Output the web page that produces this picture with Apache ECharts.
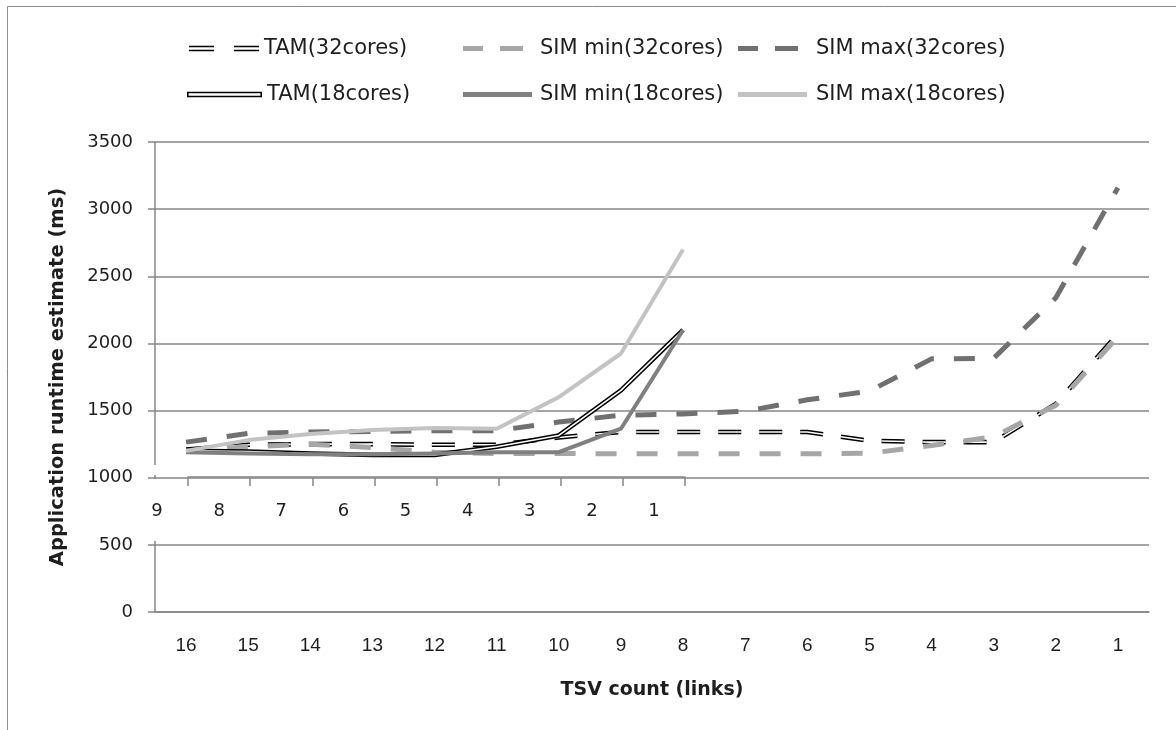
<!DOCTYPE html>
<html>
<head>
<meta charset="utf-8">
<script src="https://cdn.jsdelivr.net/npm/echarts@6/dist/echarts.min.js"></script>
<style>
html, body { margin: 0; padding: 0; background: #fff; }
#chart { width: 1176px; height: 730px; }
</style>
</head>
<body>
<div id="chart"></div>
<script>
// categories (TSV count) - bottom axis and the short secondary axis
const tsvLinks = ['16', '15', '14', '13', '12', '11', '10', '9', '8', '7', '6', '5', '4', '3', '2', '1'];
const tsvLinks18 = ['9', '8', '7', '6', '5', '4', '3', '2', '1'];

// 32 cores, 16 points
const tam32 = [1210, 1245, 1250, 1250, 1245, 1245, 1300, 1340, 1340, 1340, 1340, 1275, 1265, 1265, 1550, 2070];
const simMin32 = [1200, 1230, 1250, 1225, 1190, 1180, 1180, 1178, 1178, 1178, 1178, 1182, 1240, 1305, 1540, 2050];
const simMax32 = [1265, 1330, 1340, 1345, 1350, 1350, 1415, 1465, 1475, 1495, 1580, 1645, 1885, 1890, 2340, 3160];

// 18 cores, 9 points
const tam18 = [1200, 1195, 1180, 1170, 1170, 1230, 1315, 1650, 2100];
const simMin18 = [1190, 1180, 1175, 1175, 1180, 1190, 1190, 1365, 2100];
const simMax18 = [1200, 1280, 1325, 1355, 1370, 1365, 1600, 1925, 2700];

const AXIS = '#868686';
const TXT = '#1e1e1e';
const FONT = 'DejaVu Sans';
const NARROW = 'Liberation Sans';

// legend icons (double line / dashes)
const ICON_TAM32 = 'path://M0,0H25V1.6H0Z M0,4H25V5.6H0Z M45,0H70V1.6H45Z M45,4H70V5.6H45Z';
const ICON_TAM18 = 'path://M1,0H74V1.6H1Z M1,4H74V5.6H1Z M0,0H1.6V5.6H0Z M73.4,0H75V5.6H73.4Z';
const ICON_DASH = 'path://M0,0H20V5H0Z M37,0H60V5H37Z';
const ICON_SOLID = 'path://M0,0H69V5H0Z';

function legendItem(name, icon, left, top, w, pad) {
  return {
    left: left,
    top: top,
    padding: 0,
    itemWidth: w,
    itemHeight: 14,
    selectedMode: false,
    itemStyle: { borderWidth: 0 },
    textStyle: { fontFamily: FONT, fontSize: 21, color: TXT, padding: [0, 0, 0, pad] },
    data: [{ name: name, icon: icon }]
  };
}

function lineSeries(name, data, color, width, type, z) {
  return {
    name: name,
    type: 'line',
    xAxisIndex: 0,
    yAxisIndex: 0,
    data: data,
    symbol: 'none',
    z: z,
    lineStyle: { color: color, width: width, type: type, cap: 'butt', join: 'round' },
    itemStyle: { color: color },
    emphasis: { disabled: true }
  };
}

const chart = echarts.init(document.getElementById('chart'));

chart.setOption({
  animation: false,
  backgroundColor: '#fff',
  legend: [
    legendItem('TAM(32cores)', ICON_TAM32, 189, 38, 70, 0),
    legendItem('SIM min(32cores)', ICON_DASH, 463, 38, 60, 12),
    legendItem('SIM max(32cores)', ICON_DASH, 738, 38, 60, 13),
    legendItem('TAM(18cores)', ICON_TAM18, 187, 84, 75, 0),
    legendItem('SIM min(18cores)', ICON_SOLID, 463, 84, 69, 3),
    legendItem('SIM max(18cores)', ICON_SOLID, 738, 84, 69, 4)
  ],
  grid: [
    { left: 155, right: 27, top: 142, bottom: 118 },
    { left: 188, right: 491, top: 142, bottom: 253 }
  ],
  xAxis: [
    {
      type: 'category',
      gridIndex: 0,
      data: tsvLinks,
      boundaryGap: true,
      name: 'TSV count (links)',
      nameLocation: 'middle',
      nameGap: 69,
      nameTextStyle: { fontFamily: FONT, fontWeight: 'bold', fontSize: 19, color: TXT },
      axisLine: { lineStyle: { color: AXIS, width: 1.5 } },
      axisTick: { interval: 0, length: 10, lineStyle: { color: AXIS, width: 1.5 } },
      axisLabel: { interval: 0, margin: 24, fontFamily: NARROW, fontSize: 19, color: TXT }
    },
    {
      type: 'category',
      gridIndex: 1,
      data: tsvLinks18,
      boundaryGap: false,
      z: 5,
      axisLine: { lineStyle: { color: AXIS, width: 1.5 } },
      axisTick: { interval: 0, length: 9, lineStyle: { color: AXIS, width: 1.5 } },
      axisLabel: { interval: 0, margin: 25, padding: [0, 62, 0, 0], fontFamily: FONT, fontSize: 18, color: TXT }
    }
  ],
  yAxis: [
    {
      type: 'value',
      gridIndex: 0,
      min: 0,
      max: 3500,
      interval: 500,
      z: 0,
      name: 'Application runtime estimate (ms)',
      nameLocation: 'middle',
      nameRotate: 90,
      nameGap: 87,
      nameTextStyle: { fontFamily: FONT, fontWeight: 'bold', fontSize: 19.5, color: TXT },
      axisLine: { show: true, lineStyle: { color: AXIS, width: 1.5 } },
      axisTick: { show: true, length: 7, lineStyle: { color: AXIS, width: 1.5 } },
      axisLabel: { margin: 22, fontFamily: FONT, fontSize: 18, color: TXT, formatter: (v) => String(v) },
      splitLine: { show: true, lineStyle: { color: AXIS, width: 1.5 } }
    },
    { type: 'value', gridIndex: 1, show: false, min: 0, max: 1 }
  ],
  graphic: [
    // chart frame (left and top edges only are in view)
    { type: 'rect', z: 100, silent: true, shape: { x: 7.5, y: 6.5, width: 1300, height: 900 },
      style: { fill: 'none', stroke: '#8c8c8c', lineWidth: 1 } },
    // the vertical axis is interrupted around the secondary axis
    { type: 'rect', z: 1, silent: true, shape: { x: 151, y: 465, width: 8, height: 10 }, style: { fill: '#fff' } },
    { type: 'rect', z: 1, silent: true, shape: { x: 151, y: 479, width: 8, height: 62 }, style: { fill: '#fff' } }
  ],
  series: [
    lineSeries('TAM(32cores)', tam32, '#000', 4.6, [23, 18], 2),
    lineSeries('TAM(32cores) inner', tam32, '#fff', 1.6, [23, 18], 3),
    lineSeries('SIM min(32cores)', simMin32, '#a6a6a6', 5, [21, 20], 4),
    lineSeries('SIM max(32cores)', simMax32, '#707070', 5, [21, 20], 5),
    lineSeries('TAM(18cores)', tam18, '#000', 4.6, 'solid', 6),
    lineSeries('TAM(18cores) inner', tam18, '#fff', 1.6, 'solid', 7),
    lineSeries('SIM min(18cores)', simMin18, '#808080', 4, 'solid', 8),
    lineSeries('SIM max(18cores)', simMax18, '#c3c3c3', 4, 'solid', 9)
  ]
});
</script>
</body>
</html>
